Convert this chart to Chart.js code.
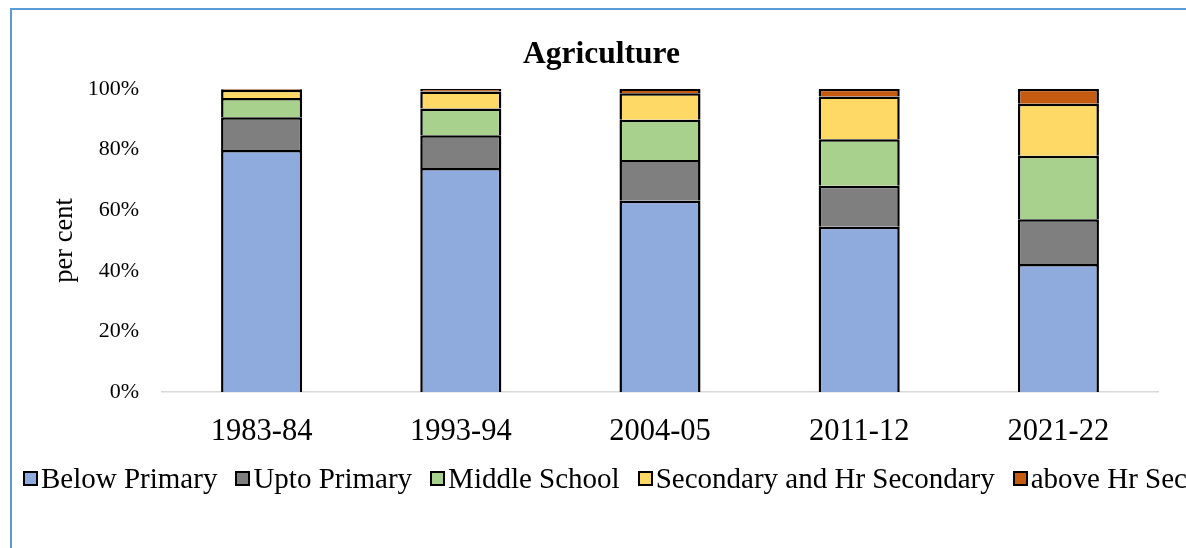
<!DOCTYPE html>
<html>
<head>
<meta charset="utf-8">
<title>Agriculture</title>
<script src="https://cdn.jsdelivr.net/npm/chart.js@4/dist/chart.umd.min.js"></script>
<style>
    html, body {
        margin: 0;
        padding: 0;
        width: 1186px;
        height: 548px;
        overflow: hidden;
        background: #fff;
        font-family: 'Liberation Serif', 'Times New Roman', serif;
    }
    #frame {
        position: absolute;
        left: 10px;
        top: 8px;
        width: 1300px;
        height: 600px;
        border-left: 2px solid #5b9bd5;
        border-top: 2px solid #5b9bd5;
    }
    #wrap {
        position: absolute;
        left: 0;
        top: 0;
        width: 1203px;
        height: 548px;
    }
    #legend {
        position: absolute;
        left: 23px;
        top: 462px;
        display: flex;
        align-items: center;
        white-space: nowrap;
        font-size: 29px;
        line-height: 33px;
        color: #000;
    }
    #legend .item {
        display: flex;
        align-items: center;
        margin-right: 18px;
    }
    #legend .box {
        width: 15px;
        height: 15px;
        box-sizing: border-box;
        border: 2px solid #000;
        margin-right: 3px;
        flex: none;
    }
</style>
</head>
<body>
<div id="frame"></div>
<div id="wrap"><canvas id="chart"></canvas></div>
<div id="legend"></div>
<script>
const periods = ['1983-84', '1993-94', '2004-05', '2011-12', '2021-22'];

// share of workers by education level, per cent
const belowPrimary = [79.8, 73.9, 63.1, 54.5, 42.2];
const uptoPrimary = [10.8, 10.8, 13.4, 13.5, 14.8];
const middleSchool = [6.4, 8.8, 13.3, 15.4, 20.9];
const secondary = [2.7, 5.6, 8.7, 14.1, 17.2];
const aboveHrSec = [0.3, 0.9, 1.5, 2.5, 4.9];

const yTicks = [0, 20, 40, 60, 80, 100];

const seriesNames = ['Below Primary', 'Upto Primary', 'Middle School',
    'Secondary and Hr Secondary', 'above Hr Secondary'];
const seriesColors = ['#8faadc', '#7f7f7f', '#a9d18e', '#ffd966', '#c55a11'];
const seriesData = [belowPrimary, uptoPrimary, middleSchool, secondary, aboveHrSec];

Chart.defaults.font.family = "'Liberation Serif', 'Times New Roman', serif";
Chart.defaults.color = '#000';

// legend written as html so it can run past the right edge on one line
const htmlLegend = {
    id: 'htmlLegend',
    afterUpdate(chart) {
        const el = document.getElementById('legend');
        el.innerHTML = '';
        const items = chart.options.plugins.legend.labels.generateLabels(chart);
        items.forEach(item => {
            const li = document.createElement('div');
            li.className = 'item';
            const box = document.createElement('span');
            box.className = 'box';
            box.style.background = item.fillStyle;
            const txt = document.createElement('span');
            txt.textContent = item.text;
            li.appendChild(box);
            li.appendChild(txt);
            el.appendChild(li);
        });
    }
};

const datasets = seriesNames.map((name, i) => ({
    label: name,
    data: seriesData[i],
    backgroundColor: seriesColors[i],
    borderColor: '#000',
    borderWidth: 2.5,
    borderSkipped: 'start',
    barPercentage: 0.407,
    categoryPercentage: 1
}));

new Chart(document.getElementById('chart'), {
    type: 'bar',
    data: {
        labels: periods,
        datasets: datasets
    },
    options: {
        responsive: true,
        maintainAspectRatio: false,
        animation: false,
        layout: {
            padding: { left: 45, right: 45, top: 0, bottom: 0 }
        },
        plugins: {
            legend: { display: false },
            tooltip: { enabled: false },
            title: {
                display: true,
                text: 'Agriculture',
                color: '#000',
                font: { size: 31.5, weight: 'bold' },
                padding: { top: 36, bottom: 15 }
            }
        },
        scales: {
            x: {
                stacked: true,
                grid: { display: false, drawTicks: false },
                border: { display: true, color: '#d9d9d9', width: 1.5 },
                ticks: {
                    color: '#000',
                    padding: 22,
                    font: { size: 30.5 }
                },
                afterFit(scale) {
                    scale.height = 548 - 392;
                }
            },
            y: {
                stacked: true,
                min: 0,
                max: 100,
                grid: { display: false, drawTicks: false },
                border: { display: false },
                afterBuildTicks(scale) {
                    scale.ticks = yTicks.map(v => ({ value: v }));
                },
                ticks: {
                    color: '#000',
                    padding: 23,
                    font: { size: 22 },
                    callback: v => v + '%'
                },
                title: {
                    display: true,
                    text: 'per cent',
                    color: '#000',
                    font: { size: 26.5 },
                    padding: { top: 4, bottom: 0 }
                },
                afterFit(scale) {
                    scale.width = 117;
                }
            }
        }
    },
    plugins: [htmlLegend]
});
</script>
</body>
</html>
